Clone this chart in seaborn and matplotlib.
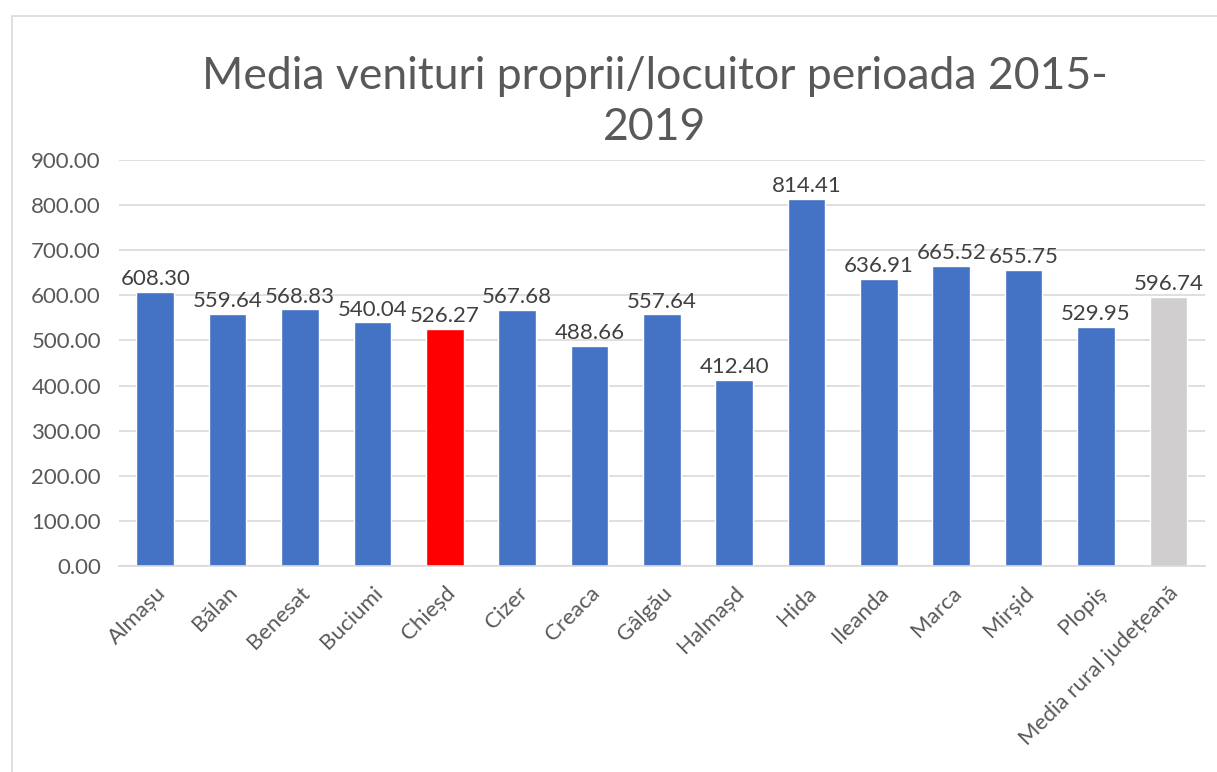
import matplotlib
matplotlib.use("Agg")
import matplotlib.pyplot as plt
import seaborn as sns
import pandas as pd
from matplotlib.patches import Rectangle
from matplotlib.ticker import FormatStrFormatter

categories = ["Almașu", "Bălan", "Benesat", "Buciumi", "Chieșd", "Cizer", "Creaca",
              "Gâlgău", "Halmașd", "Hida", "Ileanda", "Marca", "Mirșid", "Plopiș",
              "Media rural județeană"]
values = [608.30, 559.64, 568.83, 540.04, 526.27, 567.68, 488.66, 557.64, 412.40,
          814.41, 636.91, 665.52, 655.75, 529.95, 596.74]
highlight = {"Chieșd": "#FF0000", "Media rural județeană": "#D0CECE"}
base_color = "#4472C4"
title = "Media venituri proprii/locuitor perioada 2015-\n2019"

sns.set_theme(style="white")
plt.rcParams['font.family'] = ['Lato', 'DejaVu Sans']

df = pd.DataFrame({"cat": categories, "val": values})
palette = {c: highlight.get(c, base_color) for c in categories}

fig = plt.figure(figsize=(12.17, 7.72), dpi=100)
ax = fig.add_axes([0.0978, 0.2668, 0.892, 0.526])
sns.barplot(data=df, x="cat", y="val", hue="cat", palette=palette, legend=False,
            width=0.52, ax=ax, saturation=1)

ax.set_ylim(0, 900)
ax.set_yticks(range(0, 901, 100))
ax.yaxis.set_major_formatter(FormatStrFormatter("%.2f"))
ax.grid(axis="y", color="#D9D9D9", linewidth=1.2)
ax.set_axisbelow(True)
for s in ["top", "right", "left"]:
    ax.spines[s].set_visible(False)
ax.spines["bottom"].set_color("#D9D9D9")
ax.spines["bottom"].set_linewidth(1.2)
ax.set_xlabel("")
ax.set_ylabel("")
ax.tick_params(axis="y", labelsize=16, labelcolor="#595959", length=0, pad=13)
ax.tick_params(axis="x", labelsize=16, labelcolor="#595959", length=0, pad=12)
ax.set_xlim(-0.5, len(categories) - 0.5)
plt.setp(ax.get_xticklabels(), rotation=45, ha="right", rotation_mode="anchor")

for cont in ax.containers:
    ax.bar_label(cont, fmt="%.2f", fontsize=16, color="#404040", padding=2)

fig.text(0.538, 0.868, title, ha="center", va="center", fontsize=32,
         color="#595959", linespacing=1.28)

fig.patches.append(Rectangle((12 / 1217, -0.1), 1.2, 1.1 - 16 / 772,
                             transform=fig.transFigure, fill=False,
                             edgecolor="#D9D9D9", linewidth=1.2))

fig.savefig("out.png", dpi=100)
